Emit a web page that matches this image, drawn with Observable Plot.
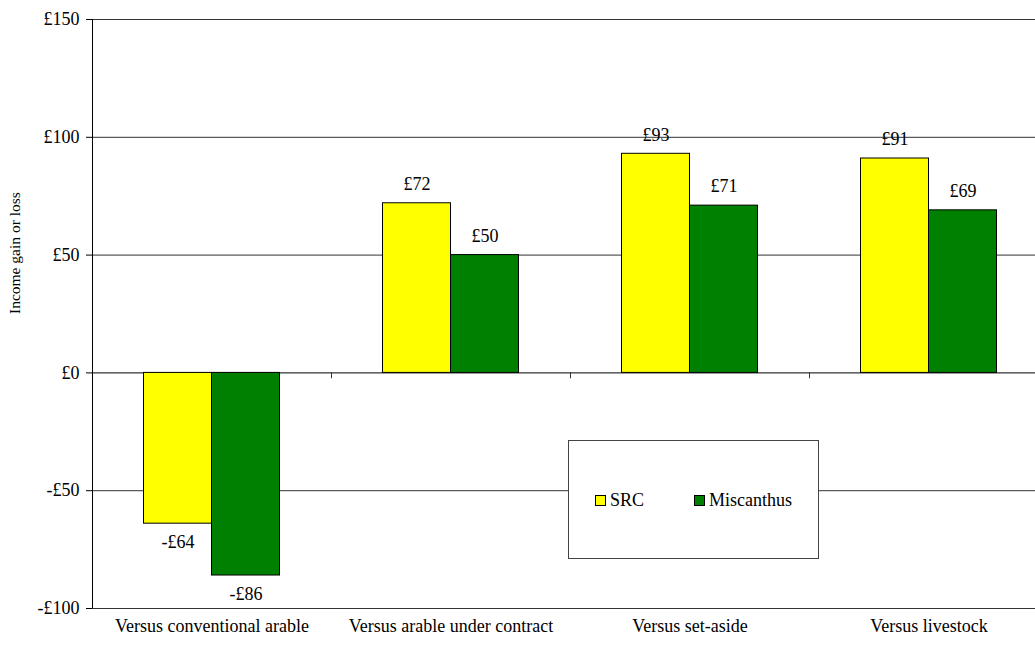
<!DOCTYPE html>
<html>
<head>
<meta charset="utf-8">
<script src="https://cdn.jsdelivr.net/npm/d3@7"></script>
<script src="https://cdn.jsdelivr.net/npm/@observablehq/plot@0.6"></script>
<style>
  html, body { margin: 0; padding: 0; background: #fff; overflow: hidden; }
  #wrap { position: relative; width: 1035px; height: 646px; }
  #chart svg, #chart svg text { font-family: "Liberation Serif", serif !important; }
  #legend {
    position: absolute; left: 568px; top: 440px; width: 249px; height: 117px;
    border: 1px solid #444; background: #fff;
    font-family: "Liberation Serif", serif; font-size: 18px; color: #000;
  }
  .item { position: absolute; top: 49px; height: 20px; display: flex; align-items: center; }
  .sw { width: 11px; height: 11px; box-sizing: border-box; border: 1px solid #000; margin-right: 4px; }
</style>
</head>
<body>
<div id="wrap">
  <div id="chart"></div>
  <div id="legend"></div>
</div>
<script>
const categories = ["Versus conventional arable", "Versus arable under contract", "Versus set-aside", "Versus livestock"];
const series = ["SRC", "Miscanthus"];
const src = [-64, 72, 93, 91];
const miscanthus = [-86, 50, 71, 69];
const yTicks = [-100, -50, 0, 50, 100, 150];
const colors = ["#FFFF00", "#008000"];
const yTitle = "Income gain or loss";

const data = categories.flatMap((c, i) => [
  {cat: c, i, series: "SRC", value: src[i]},
  {cat: c, i, series: "Miscanthus", value: miscanthus[i]}
]);
const boundaries = categories.map((c, i) => i - 0.5);
const half = 0.2845;
const fmt = d => (d < 0 ? "-" : "") + "£" + Math.abs(d);
const x1 = d => d.series === "SRC" ? d.i - half : d.i;
const x2 = d => d.series === "SRC" ? d.i : d.i + half;
const xc = d => (x1(d) + x2(d)) / 2;
const font = '"Liberation Serif", serif';

const chart = Plot.plot({
  width: 1035,
  height: 646,
  marginLeft: 92,
  marginRight: 0,
  marginTop: 19,
  marginBottom: 38,
  style: {fontFamily: font, fontSize: "18px", background: "white", color: "#000", overflow: "visible"},
  x: {domain: [-0.5, 3.5], range: [92, 1048], axis: null},
  y: {domain: [-100, 150], axis: null},
  color: {domain: series, range: colors},
  marks: [
    Plot.ruleY(yTicks.filter(d => d !== 0), {stroke: "#333"}),
    Plot.ruleY([0], {stroke: "#000"}),
    Plot.ruleX(boundaries, {x: d => d, y1: 0, y2: -2.5, stroke: "#333"}),
    Plot.rectY(data, {x1, x2, y1: 0, y2: "value", fill: "series", stroke: "#000", strokeWidth: 1}),
    Plot.text(data.filter(d => d.value >= 0), {x: xc, y: "value", text: d => fmt(d.value), dy: -19, fontSize: 18}),
    Plot.text(data.filter(d => d.value < 0), {x: xc, y: "value", text: d => fmt(d.value), dy: 19, fontSize: 18}),
    Plot.ruleX([-0.5], {stroke: "#000"}),
    Plot.axisY({ticks: yTicks, tickFormat: fmt, tickSize: 6, tickPadding: 7, label: null, fontSize: 18}),
    Plot.text(categories, {x: (d, i) => i, text: d => d, frameAnchor: "bottom", dy: 23, fontSize: 18}),
    Plot.text([yTitle], {text: d => d, frameAnchor: "left", rotate: -90, dx: -77, fontSize: 15.5})
  ]
});
document.getElementById("chart").appendChild(chart);

const legend = document.getElementById("legend");
const lefts = [26, 125];
series.forEach((s, k) => {
  const item = document.createElement("div");
  item.className = "item";
  item.style.left = lefts[k] + "px";
  const sw = document.createElement("div");
  sw.className = "sw";
  sw.style.background = colors[k];
  const t = document.createElement("span");
  t.textContent = s;
  item.appendChild(sw);
  item.appendChild(t);
  legend.appendChild(item);
});
</script>
</body>
</html>
